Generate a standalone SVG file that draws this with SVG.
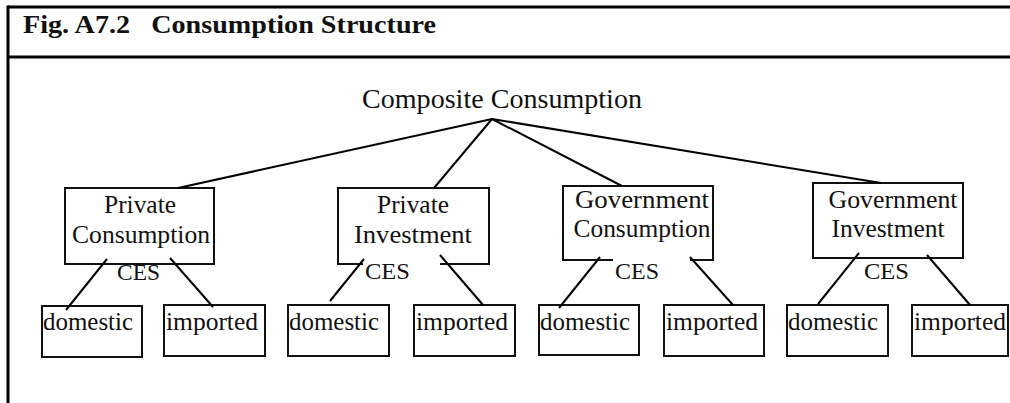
<svg xmlns="http://www.w3.org/2000/svg" width="1010" height="403" viewBox="0 0 1010 403">
<style>
text{font-family:'Liberation Serif',serif;fill:#111;}
.title{font-size:26px;font-weight:bold;}
.top{font-size:27px;}
.lbl{font-size:25px;text-anchor:middle;}
.leaf{font-size:25px;}
.ces{font-size:23px;}
.box{fill:#fff;stroke:#111;stroke-width:2;}
.frame{stroke:#000;stroke-width:3;fill:none;}
.conn line{stroke:#000;stroke-width:2;}
.mask{fill:#fff;}
</style>
<g id="frame">
<line class="frame" x1="8" y1="7" x2="1010" y2="7"/>
<line class="frame" x1="8" y1="57" x2="1010" y2="57"/>
<line class="frame" x1="8" y1="5.5" x2="8" y2="403"/>
<text class="title" x="23" y="33" textLength="413" lengthAdjust="spacingAndGlyphs" xml:space="preserve">Fig. A7.2   Consumption Structure</text>
</g>
<g id="composite">
<text class="top" x="362" y="108" textLength="280" lengthAdjust="spacingAndGlyphs">Composite Consumption</text>
</g>
<g id="pc">
<rect class="box" x="65" y="188" width="149" height="76"/>
<text class="lbl" x="140" y="213" textLength="72" lengthAdjust="spacingAndGlyphs">Private</text>
<text class="lbl" x="141" y="243" textLength="138" lengthAdjust="spacingAndGlyphs">Consumption</text>
</g>
<g id="pi">
<rect class="box" x="338" y="188" width="151" height="76"/>
<text class="lbl" x="413" y="213" textLength="72" lengthAdjust="spacingAndGlyphs">Private</text>
<text class="lbl" x="413" y="243" textLength="118" lengthAdjust="spacingAndGlyphs">Investment</text>
</g>
<g id="gc">
<rect class="box" x="563" y="186" width="150" height="74"/>
<text class="lbl" x="642" y="208" textLength="134" lengthAdjust="spacingAndGlyphs">Government</text>
<text class="lbl" x="642" y="237" textLength="137" lengthAdjust="spacingAndGlyphs">Consumption</text>
</g>
<g id="gi">
<rect class="box" x="813" y="183" width="150" height="75"/>
<text class="lbl" x="893" y="208" textLength="129" lengthAdjust="spacingAndGlyphs">Government</text>
<text class="lbl" x="888" y="237" textLength="113" lengthAdjust="spacingAndGlyphs">Investment</text>
</g>
<g id="leaves">
<g id="pc-dom"><rect class="box" x="42" y="306" width="100" height="51"/><text class="leaf" x="43" y="330" textLength="90" lengthAdjust="spacingAndGlyphs">domestic</text></g>
<g id="pc-imp"><rect class="box" x="164" y="305" width="101" height="51"/><text class="leaf" x="166" y="330" textLength="92" lengthAdjust="spacingAndGlyphs">imported</text></g>
<g id="pi-dom"><rect class="box" x="288" y="305" width="101" height="51"/><text class="leaf" x="289" y="330" textLength="90" lengthAdjust="spacingAndGlyphs">domestic</text></g>
<g id="pi-imp"><rect class="box" x="414" y="305" width="101" height="51"/><text class="leaf" x="416" y="330" textLength="92" lengthAdjust="spacingAndGlyphs">imported</text></g>
<g id="gc-dom"><rect class="box" x="539" y="305" width="100" height="50"/><text class="leaf" x="540" y="330" textLength="90" lengthAdjust="spacingAndGlyphs">domestic</text></g>
<g id="gc-imp"><rect class="box" x="664" y="305" width="100" height="51"/><text class="leaf" x="666" y="330" textLength="92" lengthAdjust="spacingAndGlyphs">imported</text></g>
<g id="gi-dom"><rect class="box" x="787" y="305" width="101" height="51"/><text class="leaf" x="788" y="330" textLength="90" lengthAdjust="spacingAndGlyphs">domestic</text></g>
<g id="gi-imp"><rect class="box" x="912" y="305" width="96" height="51"/><text class="leaf" x="914" y="330" textLength="92" lengthAdjust="spacingAndGlyphs">imported</text></g>
</g>
<g id="ces-labels">
<rect class="mask" x="363" y="263" width="77" height="22"/>
<rect class="mask" x="613" y="259" width="77" height="24"/>
<text class="ces" x="117" y="280" textLength="43" lengthAdjust="spacingAndGlyphs">CES</text>
<text class="ces" x="365" y="279" textLength="45" lengthAdjust="spacingAndGlyphs">CES</text>
<text class="ces" x="615" y="279" textLength="44" lengthAdjust="spacingAndGlyphs">CES</text>
<text class="ces" x="864" y="279" textLength="45" lengthAdjust="spacingAndGlyphs">CES</text>
</g>
<g id="connectors" class="conn">
<line x1="492" y1="119" x2="178" y2="188"/>
<line x1="492" y1="119" x2="434" y2="188"/>
<line x1="492" y1="119" x2="622" y2="186"/>
<line x1="492" y1="119" x2="881" y2="183"/>
<line x1="107" y1="259" x2="66" y2="310"/>
<line x1="170" y1="258" x2="213" y2="307"/>
<line x1="364" y1="259" x2="330" y2="301"/>
<line x1="440" y1="255" x2="483" y2="305"/>
<line x1="600" y1="257" x2="559" y2="308"/>
<line x1="690" y1="257" x2="733" y2="305"/>
<line x1="859" y1="253" x2="818" y2="304"/>
<line x1="927" y1="255" x2="970" y2="305"/>
</g>
</svg>
